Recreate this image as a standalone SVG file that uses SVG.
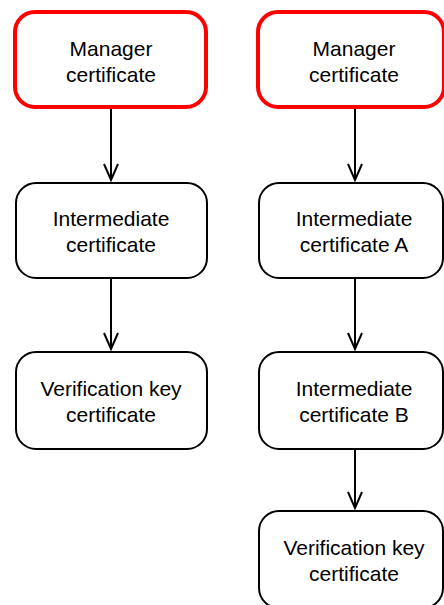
<svg xmlns="http://www.w3.org/2000/svg" width="444" height="605" viewBox="0 0 444 605">
<style>
.box{fill:#fff;stroke:#000;stroke-width:2}
.red{fill:#fff;stroke:#f00;stroke-width:4}
.t{font-family:"Liberation Sans",Arial,sans-serif;font-size:21px;fill:#000;text-anchor:middle}
.c{stroke:#000;stroke-width:2;fill:none}
</style>
<defs>
<marker id="arr" markerUnits="userSpaceOnUse" markerWidth="20" markerHeight="18" refX="17" refY="8" orient="auto" viewBox="0 0 20 16">
<path d="M1,1 L17,8 L1,15" fill="none" stroke="#000" stroke-width="2"/>
</marker>
</defs>
<rect width="444" height="605" fill="#fff"/>
<g id="connectors">
<line class="c" x1="111" y1="107" x2="111" y2="180" marker-end="url(#arr)"/>
<line class="c" x1="111" y1="278" x2="111" y2="349" marker-end="url(#arr)"/>
<line class="c" x1="355" y1="107" x2="355" y2="180" marker-end="url(#arr)"/>
<line class="c" x1="355" y1="278" x2="355" y2="349" marker-end="url(#arr)"/>
<line class="c" x1="355" y1="449" x2="355" y2="508" marker-end="url(#arr)"/>
</g>
<g id="l-manager">
<rect class="red" x="15" y="12" width="191" height="95" rx="20"/>
<text class="t" x="111" y="56">Manager</text>
<text class="t" x="111" y="82">certificate</text>
</g>
<g id="l-intermediate">
<rect class="box" x="16" y="183" width="191" height="95" rx="20"/>
<text class="t" x="111" y="226">Intermediate</text>
<text class="t" x="111" y="252">certificate</text>
</g>
<g id="l-verification">
<rect class="box" x="16" y="352" width="191" height="97" rx="20"/>
<text class="t" x="111" y="396">Verification key</text>
<text class="t" x="111" y="422">certificate</text>
</g>
<g id="r-manager">
<rect class="red" x="258" y="12" width="186" height="95" rx="20"/>
<text class="t" x="354" y="56">Manager</text>
<text class="t" x="354" y="82">certificate</text>
</g>
<g id="r-intermediate-a">
<rect class="box" x="259" y="183" width="184" height="95" rx="20"/>
<text class="t" x="354" y="226">Intermediate</text>
<text class="t" x="354" y="252">certificate A</text>
</g>
<g id="r-intermediate-b">
<rect class="box" x="259" y="352" width="184" height="97" rx="20"/>
<text class="t" x="354" y="396">Intermediate</text>
<text class="t" x="354" y="422">certificate B</text>
</g>
<g id="r-verification">
<rect class="box" x="259" y="511" width="184" height="97" rx="20"/>
<text class="t" x="354" y="555">Verification key</text>
<text class="t" x="354" y="581">certificate</text>
</g>
</svg>
